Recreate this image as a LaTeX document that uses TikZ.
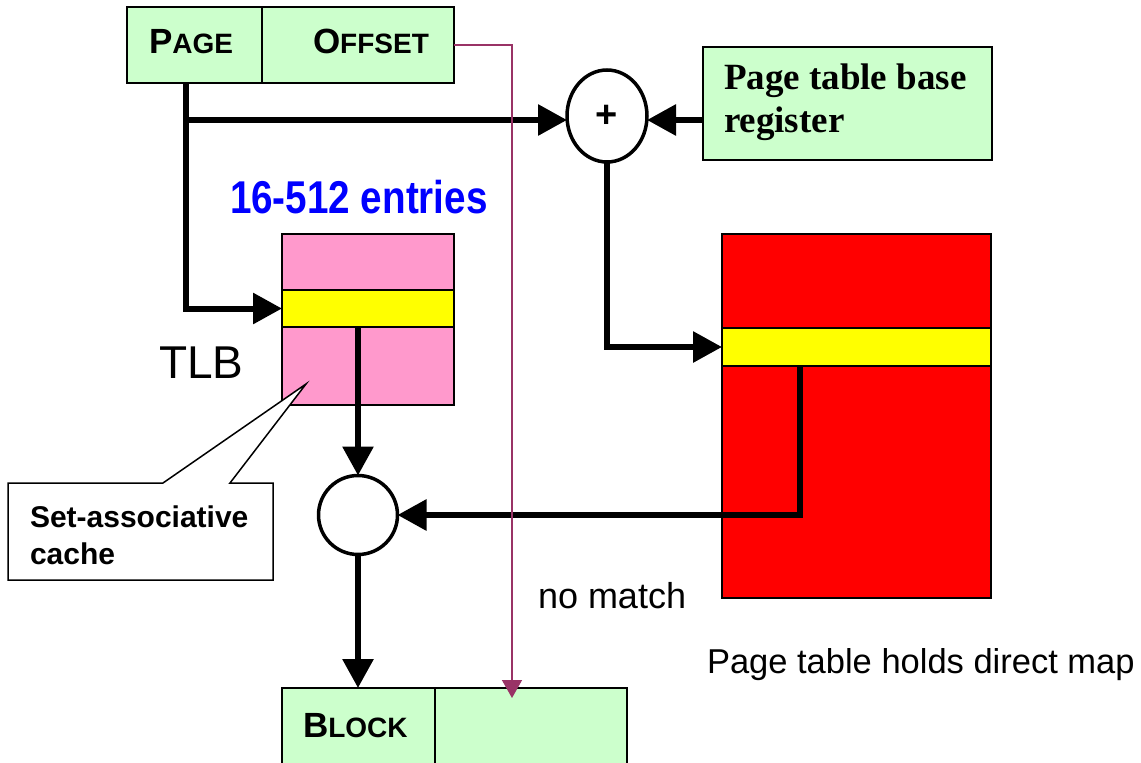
\documentclass[tikz,border=0pt]{standalone}
\usepackage{fontspec}
\setmainfont{Liberation Sans}
\newfontfamily\serifbold{Liberation Serif}
\newfontfamily\narrowsans[FakeStretch=0.84]{Liberation Sans}
\usetikzlibrary{arrows.meta,shapes.geometric}

\definecolor{regfill}{HTML}{CCFFCC}
\definecolor{tlbfill}{HTML}{FF99CC}
\definecolor{rowfill}{HTML}{FFFF00}
\definecolor{tabfill}{HTML}{FF0000}
\definecolor{offline}{HTML}{993366}
\definecolor{titleblue}{HTML}{0000FF}

\newcommand\fsz[1]{\fontsize{#1}{#1}\selectfont}
% bold small capitals built from two sizes
\newcommand\fakesc[2]{{\bfseries\fsz{35}#1\fsz{28}#2}}

\tikzset{
  cell/.style={draw=black, line width=1.5pt, fill=regfill, inner sep=0pt, outer sep=0pt},
  memory/.style={draw=black, line width=1.5pt, inner sep=0pt, outer sep=0pt},
  joint/.style={draw=black, line width=3.5pt, fill=white, inner sep=0pt, outer sep=0pt},
  bus/.style={line width=6pt, line join=miter, -{Triangle[length=29pt,width=30pt]}},
  offs/.style={draw=offline, line width=1.5pt, -{Triangle[length=18pt,width=20pt]}},
  label/.style={inner sep=0pt, outer sep=0pt, anchor=base west},
  regfont/.style={font=\serifbold\bfseries\fsz{37}},
  notefont/.style={font=\bfseries\fsz{30}},
}

\begin{document}
\begin{tikzpicture}[x=1pt,y=-1pt]
\clip (0,0) rectangle (1141,763);
\fill[white] (0,0) rectangle (1141,763);

% virtual address
\node[cell, minimum width=135pt, minimum height=76pt] (page) at (194.5,45) {};
\node[cell, minimum width=192pt, minimum height=76pt] (off) at (358,45) {};
\node[label] (pagetxt) at (149,53) {\fakesc{P}{AGE}};
\node[label] (offtxt) at (313,53) {\fakesc{O}{FFSET}};

% page table base register
\node[cell, minimum width=289pt, minimum height=113pt] (reg) at (847.5,103.5) {};
\node[label, regfont] (regtxt1) at (724,89) {Page table base};
\node[label, regfont] (regtxt2) at (724,132) {register};

% adder
\node[joint, ellipse, minimum width=80pt, minimum height=92pt] (plus) at (607,116)
  {\bfseries\fsz{38}+};

% TLB
\node[memory, fill=tlbfill, minimum width=172pt, minimum height=171pt] (tlb) at (368,319.5) {};
\node[memory, fill=rowfill, minimum width=172pt, minimum height=37pt] (tlbrow) at (368,308.5) {};
\node[label, text=titleblue] (entries) at (230,213) {\narrowsans\bfseries\fsz{46}16-512 entries};
\node[label] (tlbtxt) at (159,378) {\fsz{46}TLB};

% page table
\node[memory, fill=tabfill, minimum width=269pt, minimum height=364pt] (ptab) at (856.5,416) {};
\node[memory, fill=rowfill, minimum width=269pt, minimum height=38pt] (ptrow) at (856.5,347) {};

% selector
\node[joint, circle, minimum size=79pt] (hit) at (358,515) {};

% physical address
\node[cell, minimum width=153pt, minimum height=112pt] (blk) at (358.5,744) {};
\node[cell, minimum width=192pt, minimum height=112pt] (blkoff) at (531,744) {};
\node[label] (blktxt) at (303,737) {\fakesc{B}{LOCK}};

% callout
\draw[line width=1.5pt, fill=white]
  (8,483) -- (163,483) -- (306,384) -- (230,483) -- (273,483)
  -- (273,580) -- (8,580) -- cycle;
\node[label, notefont] (note1) at (30,527) {Set-associative};
\node[label, notefont] (note2) at (30,564) {cache};

% free texts
\node[label] (nomatch) at (538,608) {\fsz{36}no match};
\node[label] (direct) at (707,673) {\fsz{34.5}Page table holds direct map};

% connectors
\coordinate (pagetap) at (186,83);
\coordinate (tap) at (186,120);
\coordinate (ptout) at (800,366);
\coordinate (offin) at (512,698);

\draw[bus] (pagetap) |- (tlbrow.west);
\draw[bus] (tap) -- (tap -| plus.west);
\draw[bus] (reg.west |- tap) -- (tap -| plus.east);
\draw[bus] (plus.south) |- (ptrow.west);
\draw[bus] (tlbrow.south -| hit) -- (hit.north);
\draw[bus] (ptout) |- (hit.east);
\draw[bus] (hit.south) -- (blk.north -| hit);
\draw[offs] (off.east) -| (offin);
\end{tikzpicture}
\end{document}
